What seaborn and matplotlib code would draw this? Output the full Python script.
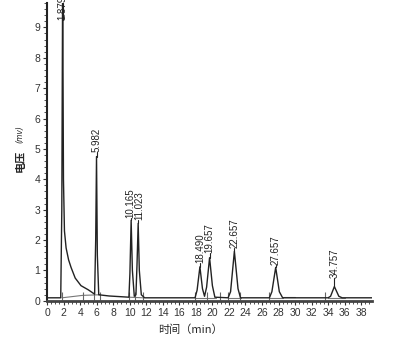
import matplotlib
matplotlib.use('Agg')
import matplotlib.pyplot as plt
from matplotlib.ticker import MultipleLocator
import pandas as pd
import seaborn as sns

# trace (time in min, voltage in mV)
t_trace = [0, 1.65, 1.78, 1.88, 1.98, 2.1, 2.3, 2.6, 2.9, 3.4,
           4.1, 5.0, 5.75, 5.88, 5.98, 6.08, 6.25, 7.5, 9.9, 10.02,
           10.17, 10.32, 10.55, 10.75, 10.88, 11.02, 11.16, 11.4, 11.8, 17.9,
           18.15, 18.49, 18.8, 19.05, 19.3, 19.66, 20.0, 20.3, 21.9, 22.2,
           22.66, 23.1, 23.4, 26.9, 27.2, 27.66, 28.1, 28.5, 34.0, 34.3,
           34.76, 35.3, 35.7, 39.3]
v_trace = [0.1, 0.1, 3.0, 10.5, 4.0, 2.3, 1.74, 1.35, 1.1, 0.75,
           0.5, 0.36, 0.22, 2.0, 4.75, 1.5, 0.2, 0.16, 0.12, 0.9,
           2.65, 1.0, 0.15, 0.2, 1.2, 2.55, 1.0, 0.2, 0.1, 0.1,
           0.35, 1.12, 0.4, 0.15, 0.45, 1.42, 0.5, 0.12, 0.1, 0.3,
           1.63, 0.4, 0.1, 0.1, 0.3, 1.1, 0.3, 0.1, 0.1, 0.15,
           0.47, 0.15, 0.1, 0.1]

# peak labels
peak_rt = [1.879, 5.982, 10.165, 11.023, 18.490, 19.657, 22.657, 27.657, 34.757]
peak_label = ['1.879', '5.982', '10.165', '11.023', '18.490', '19.657', '22.657', '27.657', '34.757']
peak_top = [9.8, 4.75, 2.65, 2.55, 1.12, 1.42, 1.63, 1.1, 0.47]
label_y = [9.25, 4.9, 2.73, 2.66, 1.25, 1.58, 1.74, 1.18, 0.75]

# integration marks / baselines
mark_t = [1.75, 4.3, 5.7, 6.4, 9.9, 10.6, 11.6, 17.9, 19.3, 20.9, 21.9, 23.3, 26.8, 33.6]
base_t = [[1.8, 4.3, 6.4], [9.9, 11.6], [17.9, 20.4], [21.9, 23.5], [26.9, 28.6], [28.6, 30.0], [34.0, 36.0]]
base_v = [[0.1, 0.18, 0.2], [0.12, 0.1], [0.1, 0.1], [0.1, 0.1], [0.1, 0.1], [0.14, 0.14], [0.1, 0.1]]

df = pd.DataFrame({'t': t_trace, 'v': v_trace})

sns.set_style('ticks')
plt.rcParams['font.family'] = ['Liberation Sans', 'DejaVu Sans']

fig = plt.figure(figsize=(4.06, 3.45), dpi=100)
ax = fig.add_axes([0.116, 0.128, 0.80, 0.863])

for bt, bv in zip(base_t, base_v):
    ax.plot(bt, bv, color='#777777', lw=0.8)
ax.vlines(mark_t, 0.02, 0.3, color='#666666', lw=0.8)

sns.lineplot(data=df, x='t', y='v', sort=False, estimator=None,
             color='#222222', lw=1.0, ax=ax)

for rt, lab, top, ly in zip(peak_rt, peak_label, peak_top, label_y):
    ax.plot([rt, rt], [top, ly], color='#222222', lw=0.8)
    dx = -0.15 if lab == '10.165' else (0.15 if lab == '11.023' else 0)
    ax.text(rt + dx, ly, lab, rotation=90, ha='center', va='bottom',
            fontsize=7, color='#222222', clip_on=False)

ax.set_xlim(0, 39.3)
ax.set_ylim(0, 9.8)
ax.xaxis.set_major_locator(MultipleLocator(2))
ax.xaxis.set_minor_locator(MultipleLocator(0.5))
ax.yaxis.set_major_locator(MultipleLocator(1))
ax.yaxis.set_minor_locator(MultipleLocator(0.2))
ax.tick_params(axis='both', which='major', labelsize=7.5, length=3, width=0.8,
               colors='#333333', pad=2)
ax.tick_params(axis='both', which='minor', length=2, width=0.6, colors='#333333')
ax.set_xlabel('')
ax.set_ylabel('')

sns.despine(ax=ax)
ax.spines['left'].set_linewidth(1.5)
ax.spines['left'].set_color('#222222')
ax.spines['bottom'].set_linewidth(2.0)
ax.spines['bottom'].set_color('#444444')

fig.text(0.468, 0.045, '时间（min）', ha='center', va='center', fontsize=8,
         family=['Noto Sans CJK SC', 'DejaVu Sans'])
fig.text(0.05, 0.535, '电压', rotation=90, ha='center', va='center', fontsize=8,
         fontweight='bold', family=['Noto Sans CJK SC', 'DejaVu Sans'])
fig.text(0.05, 0.612, '(mv)', rotation=90, ha='center', va='center', fontsize=5.5,
         style='italic', family=['DejaVu Sans'])

fig.savefig('out.png', dpi=100)
